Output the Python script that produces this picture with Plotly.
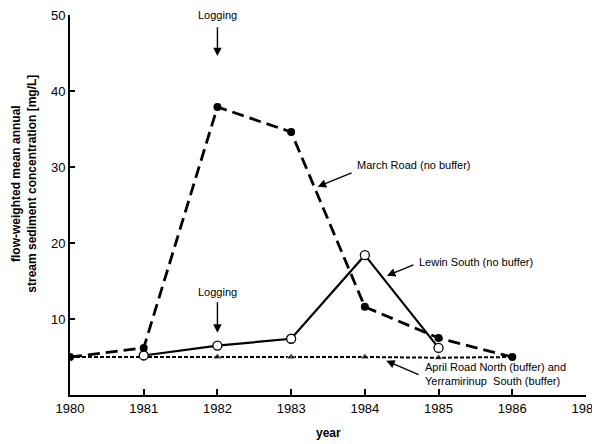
import plotly.graph_objects as go

years = [1980, 1981, 1982, 1983, 1984, 1985, 1986]
march_road = [5.0, 6.2, 37.9, 34.6, 11.6, 7.5, 5.0]
lewin_years = [1981, 1982, 1983, 1984, 1985]
lewin_south = [5.2, 6.5, 7.4, 18.4, 6.2]
april_years = [1980, 1981, 1982, 1983, 1984, 1985, 1986]
april_road = [5.0, 5.0, 5.0, 5.0, 5.0, 4.9, 5.0]
april_marker_sym = ["circle", "triangle-up", "triangle-up", "triangle-up", "triangle-up", "triangle-up", "circle"]
april_marker_size = [0, 8, 8, 8, 8, 8, 0]
x_ticks = [1980, 1981, 1982, 1983, 1984, 1985, 1986, 1987]
y_ticks = [10, 20, 30, 40, 50]

FONT = "Liberation Sans, Arial, Helvetica, sans-serif"

fig = go.Figure()
fig.add_trace(go.Scatter(
    x=april_years, y=april_road, mode="lines+markers",
    line=dict(color="black", width=2, dash="4px,2px"),
    marker=dict(symbol=april_marker_sym, size=april_marker_size, color="black"),
    showlegend=False))
fig.add_trace(go.Scatter(
    x=lewin_years, y=lewin_south, mode="lines+markers",
    line=dict(color="black", width=2.2),
    marker=dict(symbol="circle", size=9, color="white", line=dict(color="black", width=1.3)),
    showlegend=False))
fig.add_trace(go.Scatter(
    x=years, y=march_road, mode="lines+markers",
    line=dict(color="black", width=2.8, dash="12px,6px"),
    marker=dict(symbol="circle", size=8, color="black"),
    showlegend=False))

ann_font = dict(family=FONT, size=11, color="black")
arrows = [
    # (head x, head y, tail x, tail y)
    (1982.0, 44.6, 1982.0, 48.6),
    (1982.0, 8.2, 1982.0, 12.4),
    (1983.36, 27.4, 1983.84, 29.3),
    (1984.30, 15.7, 1984.68, 17.2),
    (1984.29, 4.5, 1984.75, 2.6),
]
for hx, hy, tx, ty in arrows:
    fig.add_annotation(x=hx, y=hy, ax=tx, ay=ty, xref="x", yref="y", axref="x", ayref="y",
                       text="", showarrow=True, arrowhead=2, arrowsize=1.2, arrowwidth=1.4,
                       arrowcolor="black")

texts = [
    ("Logging", 1982.0, 50.0, "center"),
    ("Logging", 1982.0, 13.6, "center"),
    ("March Road (no buffer)", 1983.87, 30.3, "left"),
    ("Lewin South (no buffer)", 1984.71, 17.5, "left"),
    ("April Road North (buffer) and<br>Yerramirinup  South (buffer)", 1984.79, 2.8, "left"),
]
for t, x, y, xa in texts:
    fig.add_annotation(x=x, y=y, xref="x", yref="y", text=t, showarrow=False,
                       xanchor=xa, yanchor="middle", align="left", font=ann_font)

fig.add_annotation(x=-0.088, y=0.555, xref="paper", yref="paper", xanchor="center", yanchor="middle",
                   text="<b>flow-weighted mean annual<br>stream sediment concentration [mg/L]</b>",
                   showarrow=False, textangle=-90, font=dict(family=FONT, size=12, color="black"))
fig.add_annotation(x=0.5, y=-0.1, xref="paper", yref="paper", text="<b>year</b>",
                   showarrow=False, yanchor="middle", font=dict(family=FONT, size=12, color="black"))

fig.update_xaxes(range=[1980, 1987], tickvals=x_ticks, ticktext=[str(v) for v in x_ticks],
                 showline=True, linecolor="black", linewidth=2, ticks="inside", ticklen=6,
                 tickwidth=1.5, tickcolor="black", showgrid=False, zeroline=False, automargin=False,
                 ticklabeloverflow="allow",
                 tickfont=dict(family=FONT, size=13, color="black"))
fig.update_yaxes(range=[0, 50], tickvals=y_ticks, showline=True, linecolor="black", linewidth=2,
                 ticks="inside", ticklen=5, tickwidth=1.5, tickcolor="black", showgrid=False,
                 zeroline=False, automargin=False, ticklabeloverflow="allow",
                 tickfont=dict(family=FONT, size=13, color="black"))

fig.update_layout(width=592, height=436, margin=dict(l=62, r=14, t=7, b=49, autoexpand=False),
                  plot_bgcolor="white", paper_bgcolor="white", font=dict(family=FONT))

fig.write_html("out.html")
